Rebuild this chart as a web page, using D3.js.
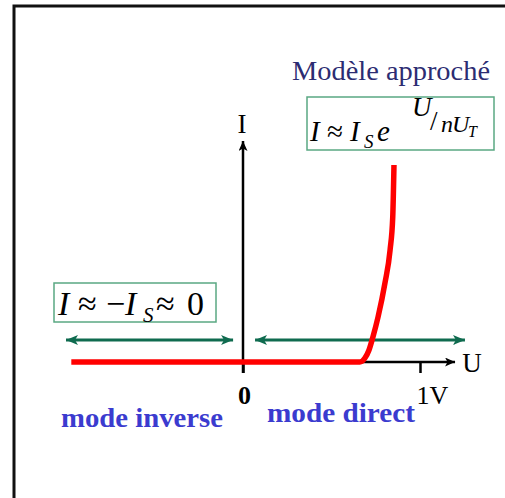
<!DOCTYPE html>
<html>
<head>
<meta charset="utf-8">
<script src="https://cdn.jsdelivr.net/npm/d3@7"></script>
<style>
  body { margin: 0; background: #fff; }
  svg { display: block; }
  text { font-family: "Liberation Serif", "Times New Roman", serif; }
</style>
</head>
<body>
<script>
// diode characteristic (U in volts, I arbitrary)
const uVals = [-0.97, 0.66, 0.689, 0.712, 0.734, 0.763, 0.802, 0.831, 0.846, 0.853];
const iVals = [0, 0, 0.2, 0.6, 1.25, 2.25, 3.95, 5.6, 7.25, 9.85];
const tickVals = [0, 1];
const tickLabels = ["0", "1V"];
const modeRanges = [[-1.0, -0.056], [0.068, 1.254]];
const modeNames = ["mode inverse", "mode direct"];

const width = 505, height = 498;
const svg = d3.select("body").append("svg")
    .attr("width", width).attr("height", height);

let x = d3.scaleLinear().domain([0, 1]).range([243, 420]);
let y = d3.scaleLinear().domain([0, 10]).range([362, 162]);

let defs = svg.append("defs");
function arrowMarker(id, color, w, h) {
    defs.append("marker")
        .attr("id", id)
        .attr("viewBox", `0 0 ${w} ${h}`)
        .attr("refX", w).attr("refY", h / 2)
        .attr("markerWidth", w).attr("markerHeight", h)
        .attr("markerUnits", "userSpaceOnUse")
        .attr("orient", "auto-start-reverse")
        .append("path")
        .attr("d", `M0,0L${w},${h / 2}L0,${h}L${w * 0.25},${h / 2}Z`)
        .attr("fill", color);
}
arrowMarker("blk", "#000", 10, 9);
arrowMarker("grn", "#0f6b4f", 12, 10);

// frame (runs off the right and bottom)
svg.append("path")
    .attr("d", "M14,520V6H520")
    .attr("fill", "none").attr("stroke", "#111").attr("stroke-width", 3);

// axes
svg.append("line")
    .attr("x1", x(0)).attr("x2", x(1.198))
    .attr("y1", y(0)).attr("y2", y(0))
    .attr("stroke", "#000").attr("stroke-width", 2.5)
    .attr("marker-end", "url(#blk)");
svg.append("line")
    .attr("x1", x(0)).attr("x2", x(0))
    .attr("y1", y(-0.55)).attr("y2", y(11.05))
    .attr("stroke", "#000").attr("stroke-width", 2.5)
    .attr("marker-end", "url(#blk)");

let axis = d3.axisBottom(x).tickValues(tickVals).tickSize(11).tickSizeOuter(0)
    .tickFormat((d, i) => tickLabels[i]);
let axisG = svg.append("g")
    .attr("transform", `translate(0,${y(0)})`)
    .call(axis);
axisG.select(".domain").remove();
axisG.selectAll(".tick line").attr("stroke", "#000").attr("stroke-width", 2.5);
axisG.selectAll(".tick text")
    .attr("font-family", "Liberation Serif")
    .attr("font-size", 26)
    .attr("fill", "#000")
    .attr("y", 42)
    .attr("dy", 0)
    .attr("dx", (d, i) => i === 1 ? 12 : 1)
    .attr("font-weight", (d, i) => i === 0 ? "bold" : "normal");

svg.append("text").text("U")
    .attr("x", 472).attr("y", 372)
    .attr("text-anchor", "middle").attr("font-size", 27);
svg.append("text").text("I")
    .attr("x", 242).attr("y", 133)
    .attr("text-anchor", "middle").attr("font-size", 27);

// mode arrows
svg.append("g").selectAll("line")
    .data(modeRanges).enter().append("line")
    .attr("x1", d => x(d[0])).attr("x2", d => x(d[1]))
    .attr("y1", y(1.1)).attr("y2", y(1.1))
    .attr("stroke", "#0f6b4f").attr("stroke-width", 3)
    .attr("marker-start", "url(#grn)")
    .attr("marker-end", "url(#grn)");

// diode curve
let lineGen = d3.line()
    .x((d, i) => x(uVals[i]))
    .y(d => y(d))
    .curve(d3.curveMonotoneX);
svg.append("path")
    .attr("d", lineGen(iVals))
    .attr("fill", "none")
    .attr("stroke", "#ff0000")
    .attr("stroke-width", 5.5);

// mode labels
svg.append("text").text(modeNames[0])
    .attr("x", 61).attr("y", 427)
    .attr("font-size", 28).attr("font-weight", "bold").attr("fill", "#3b3bcf")
    .attr("textLength", 162).attr("lengthAdjust", "spacingAndGlyphs");
svg.append("text").text(modeNames[1])
    .attr("x", 267).attr("y", 422)
    .attr("font-size", 28).attr("font-weight", "bold").attr("fill", "#3b3bcf")
    .attr("textLength", 148).attr("lengthAdjust", "spacingAndGlyphs");

// title
svg.append("text").text("Modèle approché")
    .attr("x", 292).attr("y", 80)
    .attr("font-size", 27).attr("fill", "#2c2c72")
    .attr("textLength", 198).attr("lengthAdjust", "spacingAndGlyphs");

// formula boxes
const boxColor = "#5aa882";
svg.append("rect")
    .attr("x", 307).attr("y", 97).attr("width", 187).attr("height", 53)
    .attr("fill", "none").attr("stroke", boxColor).attr("stroke-width", 1.5);
svg.append("rect")
    .attr("x", 54).attr("y", 283).attr("width", 162).attr("height", 39)
    .attr("fill", "none").attr("stroke", boxColor).attr("stroke-width", 1.5);

function put(t, px, py, size, italic) {
    svg.append("text").text(t)
        .attr("x", px).attr("y", py)
        .attr("font-size", size)
        .attr("font-style", italic ? "italic" : "normal");
}
// I ≈ I_S e^(U/nU_T)
put("I", 310, 141, 29, true);
put("≈", 327, 141, 29, false);
put("I", 350, 141, 29, true);
put("S", 364, 148, 19, true);
put("e", 377, 141, 29, true);
put("U", 412, 116, 27, true);
put("/", 430, 130, 27, false);
put("n", 441, 132, 24, true);
put("U", 452, 132, 24, true);
put("T", 468, 137, 16, true);
// I ≈ −I_S ≈ 0
put("I", 58, 315, 34, true);
put("≈", 78, 315, 34, false);
put("−", 106, 315, 34, false);
put("I", 125, 315, 34, true);
put("S", 143, 322, 21, true);
put("≈", 156, 315, 34, false);
put("0", 187, 315, 34, false);
</script>
</body>
</html>
